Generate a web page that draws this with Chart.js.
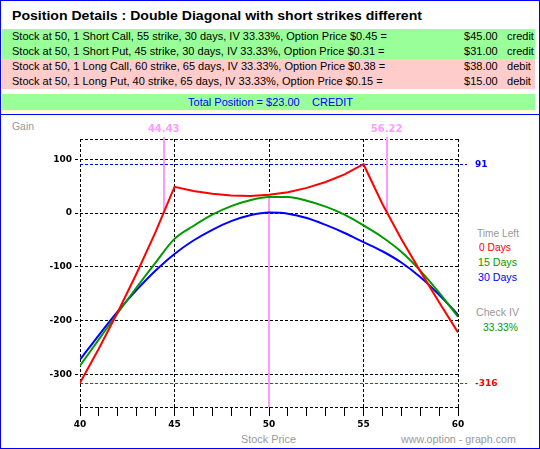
<!DOCTYPE html>
<html><head><meta charset="utf-8">
<script src="https://cdn.jsdelivr.net/npm/chart.js@4.4.1/dist/chart.umd.min.js"></script>
<style>
html,body{margin:0;padding:0;background:#fff;}
body{width:540px;height:449px;position:relative;overflow:hidden;font-family:"Liberation Sans",Arial,sans-serif;}
.frame{position:absolute;left:0;top:0;width:540px;height:449px;box-sizing:border-box;border:1px solid #0000ff;z-index:10;pointer-events:none;}
.band{position:absolute;left:2px;width:533px;}
.t{position:absolute;white-space:nowrap;transform-origin:0 50%;}
#cv{position:absolute;left:0;top:115px;}
</style></head>
<body>
<div class="frame"></div>
<div class="band" style="top:29px;height:30px;background:#99ff99"></div>
<div class="band" style="top:59px;height:30px;background:#ffcccc"></div>
<div class="band" style="top:94px;height:16px;background:#99ff99"></div>
<div class="band" style="top:110px;height:4px;background:#ffffdd"></div>
<div style="position:absolute;left:0;top:114px;width:540px;height:1px;background:#0000ff"></div>
<div id="hdr"></div>
<canvas id="cv" width="540" height="333"></canvas>
<script>
// ---- data ----
const titleText = "Position Details : Double Diagonal with short strikes different";
const legLines = [
  "Stock at 50, 1 Short Call, 55 strike, 30 days, IV 33.33%, Option Price $0.45 =",
  "Stock at 50, 1 Short Put, 45 strike, 30 days, IV 33.33%, Option Price $0.31 =",
  "Stock at 50, 1 Long Call, 60 strike, 65 days, IV 33.33%, Option Price $0.38 =",
  "Stock at 50, 1 Long Put, 40 strike, 65 days, IV 33.33%, Option Price $0.15 ="
];
const legAmounts = ["$45.00", "$31.00", "$38.00", "$15.00"];
const legKinds = ["credit", "credit", "debit", "debit"];
const totalText = "Total Position = $23.00";
const totalKind = "CREDIT";

const prices = [40,41,42,43,44,45,46,47,48,49,50,51,52,53,54,55,56,57,58,59,60];
const pl0Days  = [-316,-252,-184,-112,-35,49,41,36,33,32,34,39,47,58,72,91,17,-48,-108,-166,-222];
const pl15Days = [-284,-235,-186,-138,-92,-48,-24,-3,13,24,30,30,23,12,-3,-23,-45,-72,-107,-148,-193];
const pl30Days = [-273,-227,-183,-143,-107,-76,-51,-31,-15,-4,1,-1,-9,-22,-37,-54,-71,-92,-119,-152,-189];
const yTicks = [-300,-200,-100,0,100];
const breakevens = [44.43, 56.22];
const currentPrice = 50;
const legendItems = ["Time Left", "0 Days", "15 Days", "30 Days", "Check IV", "33.33%"];

// ---- header text ----
const hdr = document.getElementById('hdr');
function addText(txt, left, cy, size, opts) {
  opts = opts || {};
  const s = document.createElement('span');
  s.className = 't';
  s.textContent = txt;
  s.style.left = left + 'px';
  s.style.top = (cy - size/2) + 'px';
  s.style.fontSize = size + 'px';
  s.style.lineHeight = size + 'px';
  s.style.fontFamily = opts.family || '"Liberation Sans", Arial, sans-serif';
  if (opts.bold) s.style.fontWeight = 'bold';
  s.style.color = opts.color || '#000';
  hdr.appendChild(s);
  if (opts.w) {
    const w = s.getBoundingClientRect().width;
    s.style.transform = 'scaleX(' + (opts.w / w) + ')';
  } else if (opts.k) {
    s.style.transform = 'scaleX(' + opts.k + ')';
  }
  return s;
}
addText(titleText, 12, 16, 12, {bold: true, w: 410});
const rowY = [36.5, 51.5, 66.5, 81.5];
let kRow = null;
legLines.forEach((l, i) => {
  if (kRow === null) {
    const s = addText(l, 12, rowY[i], 10.5, {});
    kRow = 375 / s.getBoundingClientRect().width;
    s.style.transform = 'scaleX(' + kRow + ')';
  } else {
    addText(l, 12, rowY[i], 10.5, {k: kRow});
  }
  addText(legAmounts[i], 464, rowY[i], 10.5, {k: kRow});
  addText(legKinds[i], 507, rowY[i], 10.5, {k: kRow});
});
addText(totalText, 188, 102, 10.5, {k: kRow, color: '#0000ff'});
addText(totalKind, 312, 102, 10.5, {k: kRow, color: '#0000ff'});

// chart side texts
const grey = '#999999';
addText("Gain", 12, 126, 11, {w: 22, color: grey});
addText("Stock Price", 241, 439, 11, {w: 55, color: grey});
addText("www.option - graph.com", 401, 439, 11, {w: 115, color: grey});
const legPos = [[477,233,42,grey],[479,247.5,32,'#ff0000'],[478,262.7,39,'#009900'],[478,277.7,39,'#0000ff'],[476,312.3,43,grey],[483,327.7,35,'#009900']];
legendItems.forEach((t, i) => addText(t, legPos[i][0], legPos[i][1], 11, {w: legPos[i][2], color: legPos[i][3]}));

// ---- chart ----
const maxVal = Math.max(...pl0Days);
const minVal = Math.min(...pl0Days);
const pink = '#ff99ff';
const annot = {
  id: 'annot',
  beforeDatasetsDraw(chart) {
    const {ctx, chartArea: a, scales: {x, y}} = chart;
    ctx.save();
    // top/bottom frame
    ctx.strokeStyle = '#000'; ctx.lineWidth = 1; ctx.setLineDash([3,2]);
    ctx.beginPath();
    ctx.moveTo(a.left, Math.round(a.top) + 0.5); ctx.lineTo(a.right, Math.round(a.top) + 0.5);
    ctx.moveTo(a.left, Math.round(a.bottom) + 0.5); ctx.lineTo(a.right, Math.round(a.bottom) + 0.5);
    ctx.stroke();
    // max / min lines
    const ymax = Math.round(y.getPixelForValue(maxVal)) + 0.5;
    const ymin = Math.round(y.getPixelForValue(minVal)) + 0.5;
    ctx.strokeStyle = '#0000ff';
    ctx.beginPath(); ctx.moveTo(a.left, ymax); ctx.lineTo(a.right + 9, ymax); ctx.stroke();
    ctx.strokeStyle = '#ff0000';
    ctx.beginPath(); ctx.moveTo(a.left, ymin); ctx.lineTo(a.right + 9, ymin); ctx.stroke();
    ctx.setLineDash([]);
    // breakeven lines
    ctx.strokeStyle = pink; ctx.lineWidth = 2;
    const y0 = y.getPixelForValue(0);
    breakevens.forEach(b => {
      const px = Math.round(x.getPixelForValue(b));
      ctx.beginPath(); ctx.moveTo(px, a.top - 2); ctx.lineTo(px, y0); ctx.stroke();
    });
    const pc = Math.round(x.getPixelForValue(currentPrice));
    const idx = prices.indexOf(currentPrice);
    ctx.beginPath(); ctx.moveTo(pc, y.getPixelForValue(pl0Days[idx])); ctx.lineTo(pc, a.bottom); ctx.stroke();
    // labels
    ctx.fillStyle = pink; ctx.font = 'bold 10px "DejaVu Sans"';
    ctx.textAlign = 'center'; ctx.textBaseline = 'middle';
    breakevens.forEach(b => ctx.fillText(b.toFixed(2), x.getPixelForValue(b), a.top - 9.5));
    ctx.font = 'bold 9px "DejaVu Sans"'; ctx.textAlign = 'left';
    ctx.fillStyle = '#0000ff'; ctx.fillText(String(maxVal), a.right + 17, ymax);
    ctx.fillStyle = '#ff0000'; ctx.fillText(String(minVal), a.right + 17, ymin);
    ctx.restore();
  }
};

const mk = arr => prices.map((p, i) => ({x: p, y: arr[i]}));
new Chart(document.getElementById('cv'), {
  type: 'line',
  data: {
    datasets: [
      {data: mk(pl0Days), borderColor: '#ff0000', borderWidth: 2, pointRadius: 0, tension: 0, fill: false},
      {data: mk(pl15Days), borderColor: '#009900', borderWidth: 2, pointRadius: 0, cubicInterpolationMode: 'monotone', fill: false},
      {data: mk(pl30Days), borderColor: '#0000ff', borderWidth: 2, pointRadius: 0, cubicInterpolationMode: 'monotone', fill: false}
    ]
  },
  options: {
    responsive: false,
    animation: false,
    devicePixelRatio: 1,
    layout: {padding: {left: 0, right: 82, top: 24, bottom: 0}},
    plugins: {legend: {display: false}, tooltip: {enabled: false}, title: {display: false}},
    scales: {
      x: {
        type: 'linear', min: 40, max: 60,
        afterFit: s => { s.height = 41; },
        ticks: {stepSize: 1, autoSkip: false, maxRotation: 0, padding: 3, color: '#000',
          font: {family: 'DejaVu Sans', size: 9, weight: 'bold'},
          callback: v => (v % 5 === 0 ? String(v) : '')},
        grid: {
          color: c => (c.tick && c.tick.value % 5 === 0 ? '#000' : 'rgba(0,0,0,0)'),
          tickColor: '#000', tickLength: 9, lineWidth: 1, tickBorderDash: []
        },
        border: {display: false, dash: [3,2]}
      },
      y: {
        type: 'linear', min: -361, max: 138,
        afterFit: s => { s.width = 80; },
        afterBuildTicks: s => { s.ticks = yTicks.map(v => ({value: v})); },
        ticks: {autoSkip: false, padding: 3, color: '#000',
          font: {family: 'DejaVu Sans', size: 9, weight: 'bold'},
          callback: v => String(v)},
        grid: {color: '#000', tickColor: '#000', tickLength: 5, lineWidth: 1, tickBorderDash: [3,2]},
        border: {display: false, dash: [3,2]}
      }
    }
  },
  plugins: [annot]
});
</script>
</body></html>
